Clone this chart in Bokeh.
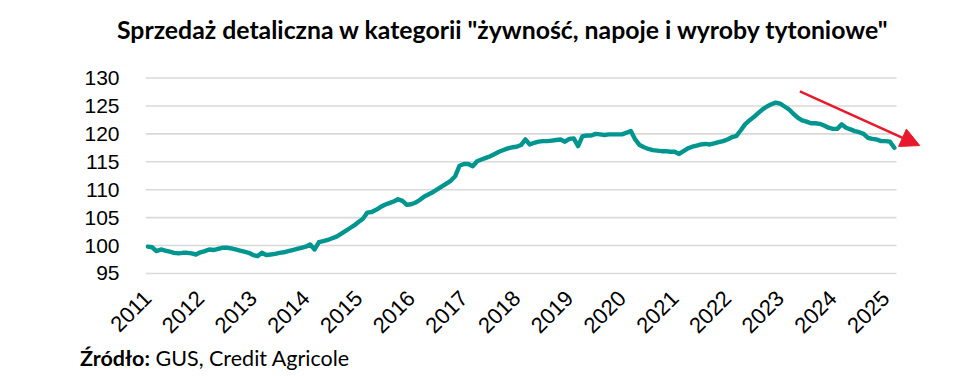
import math
from bokeh.plotting import figure
from bokeh.layouts import column
from bokeh.models import FixedTicker, Arrow, NormalHead, ColumnDataSource, Range1d, Div
from bokeh.embed import file_html
from bokeh.resources import INLINE

# ---- data (monthly index, Jan 2011 - Mar 2025) ----
year_labels = [str(y) for y in range(2011, 2026)]
y_ticks = [95, 100, 105, 110, 115, 120, 125, 130]

s2011 = [99.8, 99.7, 99.0, 99.3, 99.1, 98.9, 98.7, 98.6, 98.7, 98.7, 98.6, 98.4]
s2012 = [98.8, 99.0, 99.3, 99.2, 99.4, 99.6, 99.6, 99.5, 99.3, 99.1, 98.9, 98.7]
s2013 = [98.3, 98.1, 98.7, 98.3, 98.4, 98.5, 98.7, 98.8, 99.0, 99.2, 99.4, 99.6]
s2014 = [99.8, 100.2, 99.3, 100.6, 100.8, 101.0, 101.3, 101.6, 102.1, 102.6, 103.1, 103.6]
s2015 = [104.2, 104.8, 105.9, 106.0, 106.4, 106.9, 107.3, 107.6, 107.9, 108.3, 108.0, 107.3]
s2016 = [107.4, 107.7, 108.2, 108.8, 109.2, 109.6, 110.1, 110.6, 111.1, 111.6, 112.4, 114.3]
s2017 = [114.6, 114.6, 114.2, 115.1, 115.4, 115.7, 116.0, 116.4, 116.8, 117.1, 117.4, 117.6]
s2018 = [117.7, 118.0, 119.0, 118.1, 118.4, 118.6, 118.7, 118.7, 118.8, 118.9, 119.0, 118.6]
s2019 = [119.1, 119.2, 117.8, 119.6, 119.7, 119.7, 120.0, 119.9, 119.8, 119.9, 119.9, 119.9]
s2020 = [119.9, 120.2, 120.5, 119.0, 118.0, 117.6, 117.3, 117.1, 117.0, 116.9, 116.9, 116.8]
s2021 = [116.8, 116.4, 116.9, 117.4, 117.7, 117.9, 118.1, 118.2, 118.1, 118.3, 118.5, 118.7]
s2022 = [119.0, 119.4, 119.6, 120.6, 121.7, 122.4, 123.0, 123.7, 124.4, 124.9, 125.3, 125.6]
s2023 = [125.4, 124.9, 124.4, 123.6, 122.9, 122.4, 122.2, 121.9, 121.9, 121.8, 121.5, 121.1]
s2024 = [120.9, 120.9, 121.7, 121.1, 120.8, 120.5, 120.3, 120.0, 119.3, 119.1, 119.0, 118.7]
s2025 = [118.7, 118.6, 117.5]

sales = (s2011 + s2012 + s2013 + s2014 + s2015 + s2016 + s2017 + s2018 +
         s2019 + s2020 + s2021 + s2022 + s2023 + s2024 + s2025)
months = list(range(len(sales)))

# trend arrow (month index, value)
arrow_start = (148.5, 127.6)
arrow_end = (175.8, 117.9)

title_text = 'Sprzedaż detaliczna w kategorii "żywność, napoje i wyroby tytoniowe"'
source_bold = "Źródło:"
source_rest = "GUS, Credit Agricole"

TEAL = "#00968F"
RED = "#E8192C"
GRID = "#D9D9D9"

W = 963
HEAD_H, MAIN_H, FOOT_H = 50, 295, 31
left, right_b, top, bottom = 145, 28, 25, 70
frame_w = W - left - right_b
px_per_month = 4.392
x0 = -0.5
x1 = x0 + frame_w / px_per_month

head = Div(text=title_text, width=W, height=HEAD_H,
           styles={"font-family": "Lato", "font-weight": "bold", "font-size": "24.8px",
                   "color": "black", "padding-left": "117px", "padding-top": "15px",
                   "line-height": "30px", "white-space": "nowrap",
                   "box-sizing": "border-box", "margin": "0"})

p = figure(width=W, height=MAIN_H, output_backend="svg", toolbar_location=None,
           x_range=Range1d(x0, x1), y_range=Range1d(94.64, 130.45),
           min_border_left=left, min_border_right=right_b,
           min_border_top=top, min_border_bottom=bottom)
p.outline_line_color = None
p.xgrid.grid_line_color = None
p.ygrid.grid_line_color = None

n = len(sales)
p.segment(x0=[-0.5] * len(y_ticks), x1=[n - 0.5] * len(y_ticks), y0=y_ticks, y1=y_ticks,
          line_color=GRID, line_width=1.6)

src = ColumnDataSource(dict(x=months, y=sales))
p.line("x", "y", source=src, line_color=TEAL, line_width=4.4, line_join="round", line_cap="round")

p.yaxis.ticker = FixedTicker(ticks=y_ticks)
p.xaxis.ticker = FixedTicker(ticks=[12 * i for i in range(len(year_labels))])
p.xaxis.major_label_overrides = {12 * i: lab for i, lab in enumerate(year_labels)}
p.xaxis.major_label_orientation = math.pi / 4
for ax in (p.xaxis, p.yaxis):
    ax.axis_line_color = None
    ax.major_tick_line_color = None
    ax.minor_tick_line_color = None
    ax.major_label_text_font = "Liberation Sans"
    ax.major_label_text_color = "black"
p.yaxis.major_label_text_font_size = "21px"
p.xaxis.major_label_text_font_size = "22px"
p.yaxis.major_label_standoff = 20
p.xaxis.major_label_standoff = 13

p.add_layout(Arrow(end=NormalHead(size=19, fill_color=RED, line_color=RED),
                   x_start=arrow_start[0], y_start=arrow_start[1],
                   x_end=arrow_end[0], y_end=arrow_end[1],
                   line_color=RED, line_width=2.5))

foot = Div(text=f"<b>{source_bold}</b> {source_rest}", width=W, height=FOOT_H,
           styles={"font-family": "Lato", "font-size": "21.5px", "color": "black",
                   "padding-left": "80px", "padding-top": "1px", "line-height": "24px",
                   "box-sizing": "border-box", "margin": "0"})

layout = column(head, p, foot, spacing=0)
open("out.html", "w").write(file_html(layout, INLINE))
